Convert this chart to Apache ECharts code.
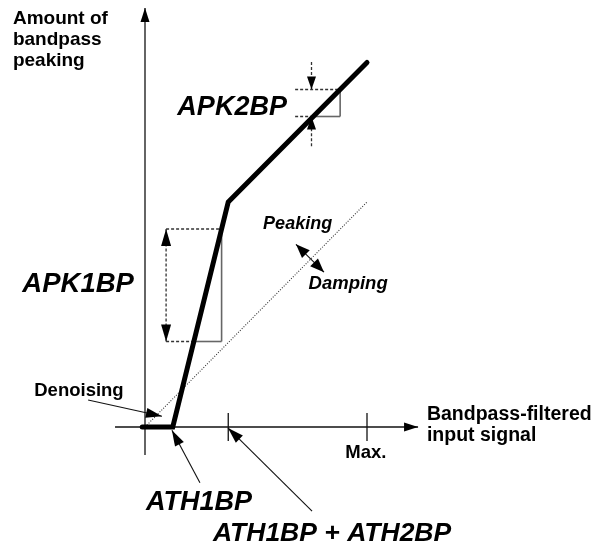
<!DOCTYPE html>
<html><head><meta charset="utf-8">
<script src="https://cdn.jsdelivr.net/npm/echarts@6/dist/echarts.min.js"></script>
<style>html,body{margin:0;padding:0;background:#fff}#c{width:603px;height:547px}</style>
</head><body><div id="c"></div>
<script>
// ---- Data (abstract units) ----
const thresholdNames = ['ATH1BP', 'ATH1BP + ATH2BP', 'Max.'];
const thresholdX = [1, 3, 8];
// Peaking characteristic (thick curve)
const curveX = [-0.1, 1, 3, 8];
const curveY = [0, 0, 5, 8.1];
// Dotted Peaking / Damping boundary
const refX = [0, 8];
const refY = [0, 5];
// Levels of the APK1BP and APK2BP step brackets
const apk1Levels = [1.9, 4.4];
const apk2Levels = [6.9, 7.5];

// ---- Layout (annotation geometry in axis units) ----
const xAxisExtent = [-1.08, 9.84];
const yAxisExtent = [-0.62, 9.31];
const tickHalf = 0.31;
const apk1ArrowX = 0.76;
const apk2LeftX = 5.41, apk2ArrowX = 6, apk2Tails = [6.24, 8.11];
const pdArrow = [5.44, 4.06, 6.45, 3.44];
const denoiseArrow = [-2.05, 0.6, 0.61, 0.24];
const ath1Arrow = [1.98, -1.24, 0.97, -0.07];
const ath2Arrow = [6.02, -1.87, 2.99, -0.02];

function curveXAt(y) {
  for (let i = 1; i < curveX.length; i++) {
    if (curveY[i] > curveY[i - 1] && y >= curveY[i - 1] && y <= curveY[i]) {
      return curveX[i - 1] + (y - curveY[i - 1]) * (curveX[i] - curveX[i - 1]) / (curveY[i] - curveY[i - 1]);
    }
  }
  return curveX[curveX.length - 1];
}

const lineStyles = [
  { stroke: '#111', lineWidth: 1.3 },                         // 0 axis
  { stroke: '#111', lineWidth: 1.1 },                         // 1 thin pointer
  { stroke: '#666', lineWidth: 1.6 },                         // 2 gray solid
  { stroke: '#333', lineWidth: 1.3, lineDash: [3, 2] },       // 3 dashed
  { stroke: '#333', lineWidth: 1.1, lineDash: [1, 1.6] }      // 4 dotted
];
const heads = [null, [9, 14], [10, 17], [9, 13], [11, 14], [10, 16]];

const segs = [];
segs.push([0, yAxisExtent[0], 0, yAxisExtent[1], 0, 0, 1]);
segs.push([xAxisExtent[0], 0, xAxisExtent[1], 0, 0, 0, 1]);
[thresholdX[1], thresholdX[2]].forEach(x => segs.push([x, -tickHalf, x, tickHalf, 0, 0, 0]));
segs.push([refX[0], refY[0], refX[1], refY[1], 4, 0, 0]);
// APK1BP bracket
(function () {
  const lo = apk1Levels[0], hi = apk1Levels[1];
  const xr = curveXAt(hi), xl = curveXAt(lo);
  segs.push([apk1ArrowX, hi, xr, hi, 3, 0, 0]);
  segs.push([apk1ArrowX, lo, xl, lo, 3, 0, 0]);
  segs.push([xl, lo, xr, lo, 2, 0, 0]);
  segs.push([xr, hi, xr, lo, 2, 0, 0]);
  segs.push([apk1ArrowX, lo, apk1ArrowX, hi, 3, 2, 2]);
})();
// APK2BP bracket
(function () {
  const lo = apk2Levels[0], hi = apk2Levels[1];
  const xr = curveXAt(hi), xl = curveXAt(lo);
  segs.push([apk2LeftX, hi, xr, hi, 3, 0, 0]);
  segs.push([apk2LeftX, lo, xl, lo, 3, 0, 0]);
  segs.push([xl, lo, xr, lo, 2, 0, 0]);
  segs.push([xr, hi, xr, lo, 2, 0, 0]);
  segs.push([apk2ArrowX, apk2Tails[1], apk2ArrowX, hi, 3, 0, 3]);
  segs.push([apk2ArrowX, apk2Tails[0], apk2ArrowX, lo, 3, 0, 3]);
})();
segs.push(pdArrow.concat([1, 4, 4]));
segs.push(denoiseArrow.concat([1, 0, 5]));
segs.push(ath1Arrow.concat([1, 0, 5]));
segs.push(ath2Arrow.concat([1, 0, 5]));

function headShape(tip, from, size) {
  const dx = tip[0] - from[0], dy = tip[1] - from[1];
  const L = Math.sqrt(dx * dx + dy * dy) || 1;
  const ux = dx / L, uy = dy / L, nx = -uy, ny = ux;
  const bx = tip[0] - ux * size[1], by = tip[1] - uy * size[1];
  return { type: 'polygon', shape: { points: [tip, [bx + nx * size[0] / 2, by + ny * size[0] / 2], [bx - nx * size[0] / 2, by - ny * size[0] / 2]] },
    style: { fill: '#000' } };
}

function renderSeg(params, api) {
  const p1 = api.coord([api.value(0), api.value(1)]);
  const p2 = api.coord([api.value(2), api.value(3)]);
  const st = lineStyles[api.value(4)];
  const hs = heads[api.value(5)], he = heads[api.value(6)];
  const children = [{ type: 'line', shape: { x1: p1[0], y1: p1[1], x2: p2[0], y2: p2[1] },
    style: Object.assign({ fill: null }, st) }];
  if (hs) children.push(headShape(p1, p2, hs));
  if (he) children.push(headShape(p2, p1, he));
  return { type: 'group', children: children };
}

const FONT = '"Liberation Sans", Arial, Helvetica, sans-serif';
function lab(x, y, text, size, italic, align, vAlign, lh) {
  return { value: [x, y], name: text, label: { show: true, position: 'inside', formatter: '{b}',
    fontFamily: FONT, fontWeight: 'bold', fontStyle: italic ? 'italic' : 'normal', fontSize: size,
    color: '#000', opacity: 1, align: align || 'center', verticalAlign: vAlign || 'middle', lineHeight: lh || size * 1.15 } };
}
const labels = [
  lab(-4.76, 9.31, 'Amount of\nbandpass\npeaking', 19, false, 'left', 'top', 21),
  lab(10.16, 0.51, 'Bandpass-filtered\ninput signal', 19.5, false, 'left', 'top', 21),
  lab(3.14, 7.09, 'APK2BP', 27, true),
  lab(-2.41, 3.16, 'APK1BP', 27.5, true),
  lab(5.50, 4.51, 'Peaking', 18, true),
  lab(7.32, 3.18, 'Damping', 18.5, true),
  lab(-2.38, 0.81, 'Denoising', 18.5, false),
  lab(thresholdX[2] - 0.04, -0.57, thresholdNames[2], 18.5, false),
  lab(1.95, -1.68, thresholdNames[0], 27, true),
  lab(6.74, -2.37, thresholdNames[1], 26.5, true)
];

const chart = echarts.init(document.getElementById('c'), null, { renderer: 'canvas' });
chart.setOption({
  animation: false,
  backgroundColor: '#fff',
  grid: { left: 6.25, top: 4, width: 582.75, height: 535.5 },
  xAxis: { type: 'value', min: -5, max: 16, show: false },
  yAxis: { type: 'value', min: -2.5, max: 9.4, show: false },
  series: [
    { type: 'custom', renderItem: renderSeg, data: segs, silent: true, clip: false, z: 2 },
    { type: 'line', data: curveX.map((x, i) => [x, curveY[i]]), symbol: 'none', silent: true, clip: false, z: 3,
      lineStyle: { color: '#000', width: 5, cap: 'round', join: 'miter' } },
    { type: 'scatter', data: labels, symbolSize: 0, silent: true, z: 4, itemStyle: { opacity: 1 } }
  ]
});
</script></body></html>
